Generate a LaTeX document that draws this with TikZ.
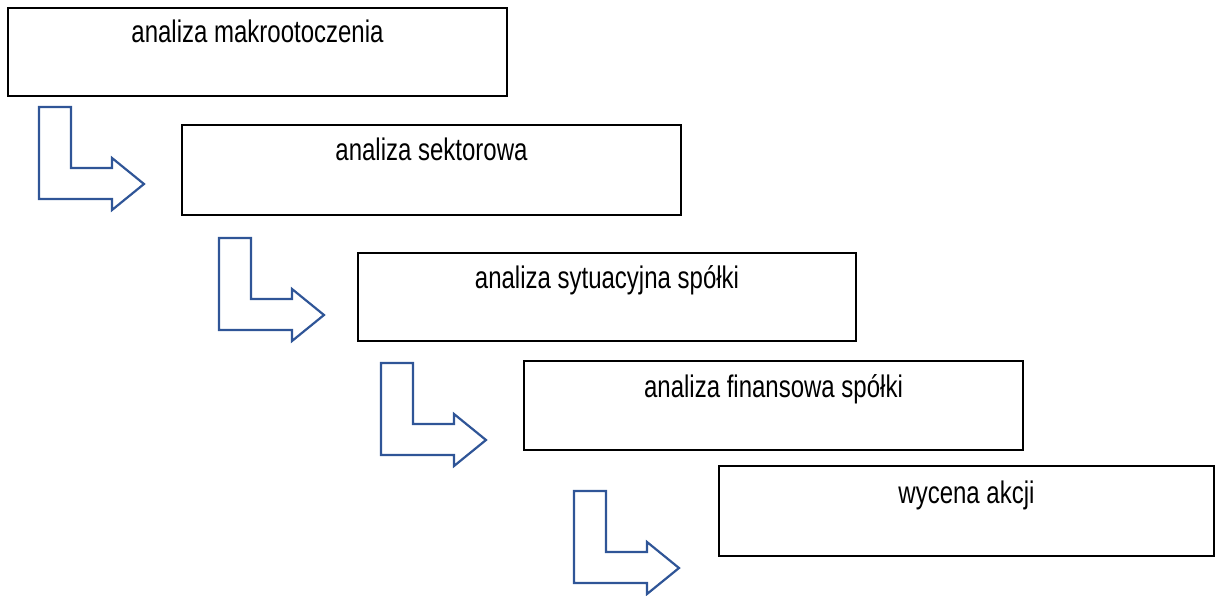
\documentclass[tikz,border=0pt]{standalone}
\usepackage{fontspec}
\setmainfont{Liberation Sans}
\usepackage{graphicx}
\definecolor{arrowblue}{HTML}{2F5597}
\begin{document}
\begin{tikzpicture}[x=1pt,y=-1pt,
  stagebox/.style={draw=black,line width=2pt,fill=white},
  stagelabel/.style={anchor=base,inner sep=0pt,font=\fontsize{24}{29}\selectfont},
  bentarrow/.pic={
    \draw[arrowblue,line width=2.2pt,line join=miter]
      (0,0) -- (32,0) -- (32,61) -- (73,61) -- (73,51) -- (105,77)
      -- (73,103) -- (73,92) -- (0,92) -- cycle;
  }]
\useasboundingbox (0,0) rectangle (1216,596);
% stage boxes
\path[stagebox] (8,8) rectangle (507,96);
\path[stagebox] (182,125) rectangle (681,215);
\path[stagebox] (358,253) rectangle (856,341);
\path[stagebox] (524,361) rectangle (1023,450);
\path[stagebox] (719,466) rectangle (1214,556);
% labels
\node[stagelabel] (t1) at (257.5,43) {\scalebox{1}[1.3]{analiza makrootoczenia}};
\node[stagelabel] (t2) at (431.5,161) {\scalebox{1}[1.3]{analiza sektorowa}};
\node[stagelabel] (t3) at (607,289) {\scalebox{1}[1.3]{analiza sytuacyjna spółki}};
\node[stagelabel] (t4) at (773.5,397) {\scalebox{1}[1.3]{analiza finansowa spółki}};
\node[stagelabel] (t5) at (966.5,503) {\scalebox{1}[1.3]{wycena akcji}};
% bent arrows
\pic at (39,107) {bentarrow};
\pic at (219,238) {bentarrow};
\pic at (381,363) {bentarrow};
\pic at (574,491) {bentarrow};
\end{tikzpicture}
\end{document}
